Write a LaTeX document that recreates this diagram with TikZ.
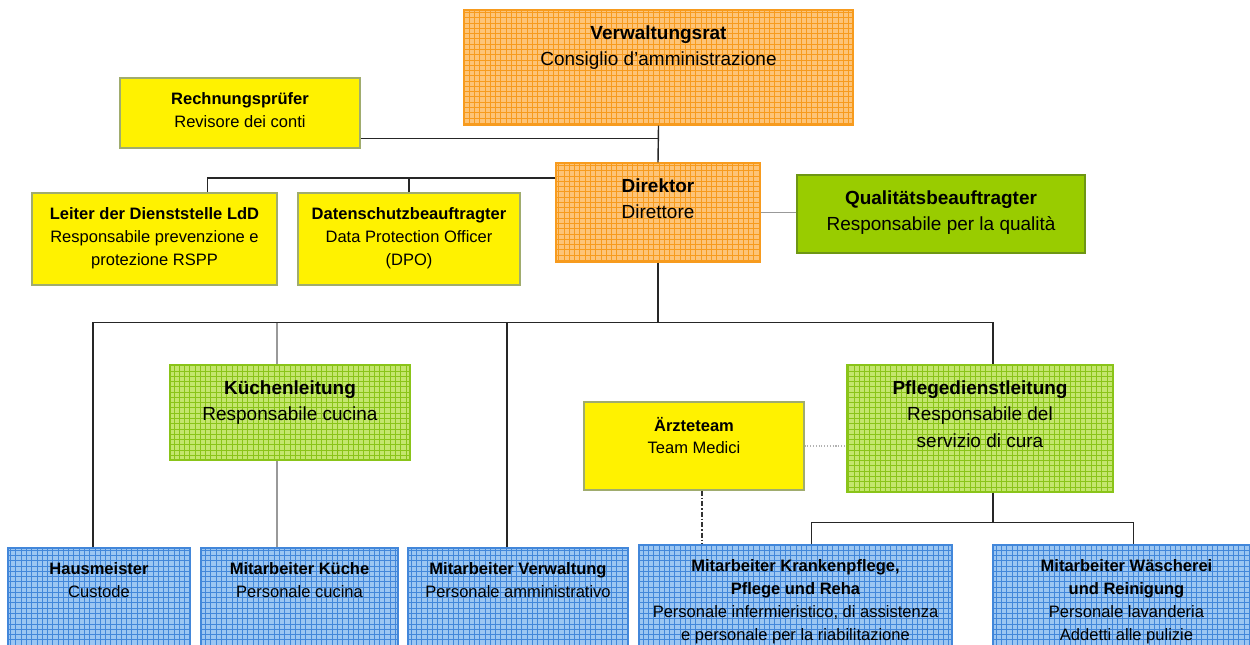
\documentclass[tikz,border=0pt]{standalone}
\usepackage{fontspec}
\setmainfont{Liberation Sans}
\usetikzlibrary{patterns,fit,calc}

\definecolor{boardorange}{RGB}{253,196,120}
\definecolor{gridorange}{RGB}{247,155,30}
\definecolor{leadgreen}{RGB}{196,230,110}
\definecolor{gridgreen}{RGB}{138,196,25}
\definecolor{staffblue}{RGB}{155,198,242}
\definecolor{gridblue}{RGB}{66,135,218}
\definecolor{qualgreen}{RGB}{153,204,0}
\definecolor{qualedge}{RGB}{110,150,20}
\definecolor{yellowedge}{RGB}{160,172,110}

\begin{document}
\begin{tikzpicture}[x=0.02cm,y=-0.02cm,
    box/.style={draw, inner sep=0pt, line width=0.6pt},
    orangebox/.style={box, draw=gridorange, fill=boardorange,
        postaction={pattern=grid, pattern color=gridorange}},
    greenbox/.style={box, draw=gridgreen, fill=leadgreen,
        postaction={pattern=grid, pattern color=gridgreen}},
    bluebox/.style={box, draw=gridblue, fill=staffblue,
        postaction={pattern=grid, pattern color=gridblue}},
    yellowbox/.style={box, draw=yellowedge, fill=yellow},
    qualbox/.style={box, draw=qualedge, fill=qualgreen},
    bigtext/.style={anchor=north, align=center, inner sep=0pt,
        font=\fontsize{10.8}{15}\selectfont, yshift=-9pt},
    smalltext/.style={anchor=north, align=center, inner sep=0pt,
        font=\fontsize{9.4}{13}\selectfont, yshift=-8.6pt},
    conn/.style={line width=0.8pt, black!85},
    greyconn/.style={line width=0.8pt, black!40}
]
    \path[use as bounding box, clip] (0,0) rectangle (1250,645);

    % top: board, auditor, director
    \node[orangebox, fit={(464,10) (853,125)},
        label={[bigtext]north:{\textbf{Verwaltungsrat}\\Consiglio d'amministrazione}}] (vr) {};
    \node[yellowbox, fit={(120,78) (360,148)},
        label={[smalltext]north:{\textbf{Rechnungsprüfer}\\Revisore dei conti}}] (rp) {};
    \node[orangebox, fit={(556,163) (760,262)},
        label={[bigtext]north:{\textbf{Direktor}\\Direttore}}] (dir) {};
    \node[qualbox, fit={(797,175) (1085,253)},
        label={[bigtext]north:{\textbf{Qualitätsbeauftragter}\\Responsabile per la qualità}}] (qb) {};

    % staff functions
    \node[yellowbox, fit={(32,193) (277,285)},
        label={[smalltext]north:{\textbf{Leiter der Dienststelle LdD}\\Responsabile prevenzione e\\protezione RSPP}}] (ldd) {};
    \node[yellowbox, fit={(298,193) (520,285)},
        label={[smalltext]north:{\textbf{Datenschutzbeauftragter}\\Data Protection Officer\\(DPO)}}] (dsb) {};

    % middle level
    \node[greenbox, fit={(170,365) (410,460)},
        label={[bigtext]north:{\textbf{Küchenleitung}\\Responsabile cucina}}] (kl) {};
    \node[yellowbox, fit={(584,402) (804,490)},
        label={[smalltext]north:{\textbf{Ärzteteam}\\Team Medici}}] (at) {};
    \node[greenbox, fit={(847,365) (1113,492)},
        label={[bigtext]north:{\textbf{Pflegedienstleitung}\\Responsabile del\\servizio di cura}}] (pdl) {};

    % staff
    \node[bluebox, fit={(8,548) (190,660)},
        label={[smalltext]north:{\textbf{Hausmeister}\\Custode}}] (hm) {};
    \node[bluebox, fit={(201,548) (398,660)},
        label={[smalltext]north:{\textbf{Mitarbeiter Küche}\\Personale cucina}}] (mk) {};
    \node[bluebox, fit={(408,548) (628,660)},
        label={[smalltext]north:{\textbf{Mitarbeiter Verwaltung}\\Personale amministrativo}}] (mv) {};
    \node[bluebox, fit={(639,545) (952,660)},
        label={[smalltext]north:{\textbf{Mitarbeiter Krankenpflege,}\\\textbf{Pflege und Reha}\\Personale infermieristico, di assistenza\\e personale per la riabilitazione}}] (mkp) {};
    \node[bluebox, fit={(993,545) (1260,660)},
        label={[smalltext]north:{\textbf{Mitarbeiter Wäscherei}\\\textbf{und Reinigung}\\Personale lavanderia\\Addetti alle pulizie}}] (mw) {};

    % lines
    \coordinate (stafflevel) at (0,178);
    \coordinate (rpj) at ($(rp.south east)+(0,-10)$);
    \coordinate (bus) at ($(dir.south)+(0,60)$);
    \coordinate (kldrop) at ($(kl.north)+(-13,0)$);
    \coordinate (mvdrop) at ($(mv.north)+(-11,0)$);
    \coordinate (pdrop) at ($(pdl.south)+(13,0)$);
    \coordinate (sub) at ($(pdrop)+(0,30)$);
    \coordinate (atdrop) at ($(at.south)+(8,0)$);

    \draw[conn] (vr.south) -- (dir.north);
    \draw[conn] (rpj) -- (rpj -| vr.south);
    \draw[conn] (dir.west |- stafflevel) -| ($(ldd.north)+(53,0)$);
    \draw[conn] (dsb.north) -- (dsb.north |- stafflevel);
    \draw[greyconn] (dir.east) -- (dir.east -| qb.west);

    \draw[conn] (dir.south) -- (bus);
    \draw[conn] ($(hm.north)+(-6,0)$) |- (bus) -| ($(pdl.north)+(13,0)$);
    \draw[greyconn] (kldrop) -- (kldrop |- bus);
    \draw[greyconn] (kldrop |- kl.south) -- (kldrop |- mk.north);
    \draw[conn] (mvdrop) -- (mvdrop |- bus);

    \draw[conn] (pdrop) -- (sub);
    \draw[conn] ($(mkp.north)+(16,0)$) |- (sub) -| ($(mw.north)+(7,0)$);
    \draw[black!30, line width=0.6pt, densely dotted] (at.east) -- (at.east -| pdl.west);
    \draw[black!80, line width=0.6pt, dash pattern=on 3pt off 1pt on 1pt off 1pt] (atdrop) -- (atdrop |- mkp.north);

\end{tikzpicture}
\end{document}
